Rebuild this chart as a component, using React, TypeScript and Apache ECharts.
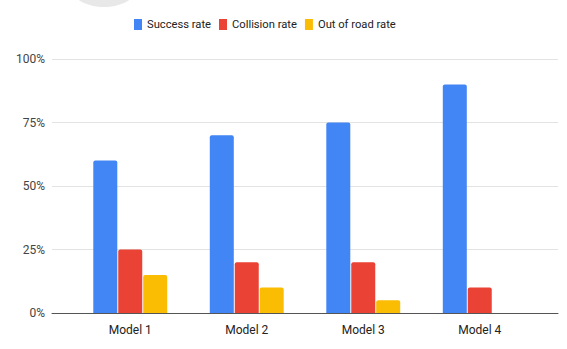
import React, { useEffect, useRef } from "react";
import * as echarts from "echarts";

const categories = ["Model 1", "Model 2", "Model 3", "Model 4"];
const successRate = [60, 70, 75, 90];
const collisionRate = [25, 20, 20, 10];
const outOfRoadRate = [15, 10, 5, 0];
const seriesNames = ["Success rate", "Collision rate", "Out of road rate"];
const colors = ["#4285F4", "#EA4335", "#FBBC04"];

export default function App() {
  const ref = useRef<HTMLDivElement>(null);
  useEffect(() => {
    document.body.style.margin = "0";
    const chart = echarts.init(ref.current!, null, { renderer: "svg" });
    const font = "Roboto, Arial, sans-serif";
    const mkBar = (name: string, data: number[], color: string) => ({
      name,
      type: "bar",
      xAxisIndex: 1,
      yAxisIndex: 1,
      data,
      barWidth: 24,
      barGap: "4%",
      itemStyle: { color, borderRadius: [2, 2, 0, 0] },
    });
    chart.setOption({
      animation: false,
      color: colors,
      textStyle: { fontFamily: font },
      graphic: [
        {
          type: "ellipse",
          shape: { cx: 104, cy: -14, rx: 34, ry: 21 },
          style: { fill: "#e8e8e8" },
          z: -1,
        },
      ],
      legend: {
        top: 19,
        left: 134,
        padding: 0,
        itemWidth: 8,
        itemHeight: 11,
        itemGap: 8,
        icon: "rect",
        textStyle: { fontSize: 11.2, color: "#222", fontFamily: font },
        data: seriesNames,
      },
      grid: [
        { left: 52, right: 9, top: 59, bottom: 36 },
        { left: 72, right: 29, top: 59, bottom: 36 },
      ],
      xAxis: [
        {
          gridIndex: 0,
          type: "value",
          min: 0,
          max: 1,
          axisLine: { show: true, lineStyle: { color: "#555", width: 1 } },
          axisTick: { show: false },
          axisLabel: { show: false },
          splitLine: { show: false },
        },
        {
          gridIndex: 1,
          type: "category",
          data: categories,
          axisLine: { show: false },
          axisTick: { show: false },
          axisLabel: { color: "#222", fontSize: 12, margin: 11, fontFamily: font },
        },
      ],
      yAxis: [
        {
          gridIndex: 0,
          type: "value",
          min: 0,
          max: 100,
          interval: 25,
          axisLine: { show: false },
          axisTick: { show: false },
          axisLabel: { formatter: "{value}%", color: "#444", fontSize: 12, margin: 7, fontFamily: font },
          splitLine: { lineStyle: { color: "#e3e3e3", width: 1 } },
        },
        {
          gridIndex: 1,
          type: "value",
          min: 0,
          max: 100,
          interval: 25,
          show: false,
          splitLine: { show: false },
        },
      ],
      series: [
        mkBar(seriesNames[0], successRate, colors[0]),
        mkBar(seriesNames[1], collisionRate, colors[1]),
        mkBar(seriesNames[2], outOfRoadRate, colors[2]),
      ],
    });
    return () => chart.dispose();
  }, []);
  return <div ref={ref} style={{ width: 567, height: 349 }} />;
}
